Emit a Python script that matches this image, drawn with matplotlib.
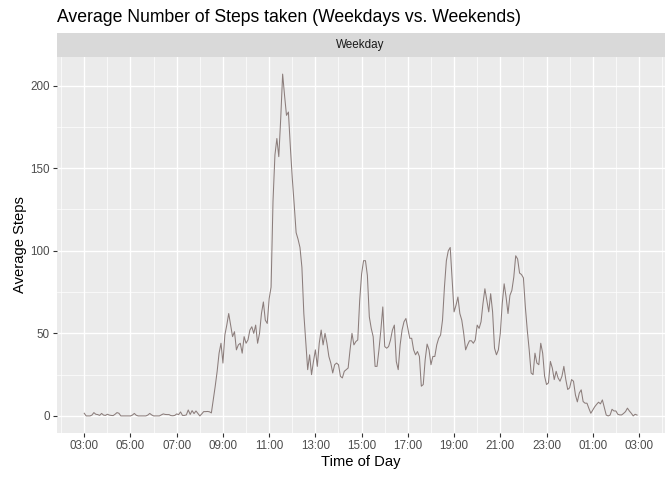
"""Average steps per 5-minute interval on weekdays, drawn in a ggplot-like style."""

import matplotlib

matplotlib.use("Agg")
import matplotlib.pyplot as plt
import numpy as np

# Average steps per 5-minute interval, starting at 03:00 on the axis
steps = [
    1.6, 0, 0, 0, 0.5, 2, 1, 0.8, 0.3, 1.5,
    0.5, 0.3, 1, 0.5, 0.3, 0.2, 1, 2, 1.6, 0,
    0, 0, 0, 0, 0, 0.5, 1.5, 0.4, 0, 0,
    0, 0, 0, 0.5, 1.5, 0.6, 0, 0, 0, 0,
    0.6, 1.2, 0.9, 0.8, 0.8, 0.2, 0.1, 0.3, 1.2, 0.8,
    2.4, 0.3, 0.3, 0.6, 3.6, 0.9, 3.2, 1.4, 3, 1.5,
    0, 1.2, 2.6, 2.6, 2.7, 2.5, 1.8, 10, 18, 27,
    38, 44, 32, 49, 55, 62, 55, 48, 51, 40,
    43, 44, 38, 48, 44, 46, 52, 54, 50, 55,
    44, 50, 62, 69, 58, 56, 71, 78, 130, 158,
    168, 157, 180, 207, 194, 182, 184, 163, 144, 128,
    111, 107, 102, 90, 62, 45, 28, 37, 25, 33,
    40, 30, 44, 52, 43, 50, 44, 36, 32, 26,
    31, 32, 31, 24, 23, 27, 28, 29, 40, 50,
    43, 45, 46, 70, 86, 94, 94, 85, 60, 53,
    48, 30, 30, 40, 52, 66, 42, 41, 42, 46,
    52, 55, 33, 28, 43, 52, 57, 59, 53, 47,
    47, 40, 37, 39, 36, 18, 19, 34, 43.5, 40,
    31, 36, 36, 43, 47, 49, 58, 78, 94, 100,
    102, 82, 63, 67, 72, 62, 58, 50, 40, 43,
    45.5, 45.5, 44, 46, 55, 53, 57, 68, 77, 70,
    63, 74, 63, 41, 37, 40, 50, 68, 80, 72,
    62, 73, 76, 84, 97, 95, 86.5, 85.6, 83.6, 66,
    52, 40, 26, 25, 38, 32, 31, 44, 38, 24,
    19, 20, 33, 29, 22, 27, 23, 21, 24, 30,
    22, 16, 17, 22, 21, 12.7, 8.5, 13.8, 15.8, 8.7,
    7.7, 7.7, 4.5, 1.6, 3.5, 5.5, 7, 8.3, 7.3, 9.7,
    5, 0.5, 0, 0.5, 4, 3, 3, 1, 0.6, 0.6,
    1.5, 2.6, 4.7, 3, 1.6, 0, 1, 0.5,
]
facet_label = "Weekday"
tick_labels = ["03:00", "05:00", "07:00", "09:00", "11:00", "13:00", "15:00",
               "17:00", "19:00", "21:00", "23:00", "01:00", "03:00"]
y_ticks = [0, 50, 100, 150, 200]

# minutes after the first interval
minutes = np.arange(len(steps)) * 5

W, H = 672, 480
BG = "#EBEBEB"
STRIP = "#D9D9D9"
LINE = "#8B7D7B"
FONT = "Liberation Sans"

plt.rcParams["font.family"] = [FONT, "DejaVu Sans"]

fig = plt.figure(figsize=(W / 100, H / 100), dpi=100)

# panel and strip placement in pixels
left, right, bottom, top = 56.6, 664.7, 433, 57
strip_top = 33
ax = fig.add_axes([left / W, 1 - bottom / H, (right - left) / W, (bottom - top) / H])
sax = fig.add_axes([left / W, 1 - top / H, (right - left) / W, (top - strip_top) / H])

ax.set_facecolor(BG)
for s in ax.spines.values():
    s.set_visible(False)

# ggplot style expansion of 5 percent
xr = minutes[-1] - minutes[0]
ax.set_xlim(minutes[0] - 0.05 * xr, minutes[-1] + 0.05 * xr)
ymin, ymax = min(steps), max(steps)
yr = ymax - ymin
ax.set_ylim(ymin - 0.05 * yr, ymax + 0.05 * yr)

x_major = np.arange(len(tick_labels)) * 120
x_minor = np.arange(-60, 1560, 120)
y_minor = [25, 75, 125, 175]

for xm in x_minor:
    ax.axvline(xm, color="white", lw=0.5, zorder=1)
for ym in y_minor:
    ax.axhline(ym, color="white", lw=0.5, zorder=1)
for xm in x_major:
    ax.axvline(xm, color="white", lw=1.0, zorder=1)
for ym in y_ticks:
    ax.axhline(ym, color="white", lw=1.0, zorder=1)

ax.plot(minutes, steps, color=LINE, lw=0.75, zorder=3)

ax.set_xticks(x_major)
ax.set_xticklabels(tick_labels)
ax.set_yticks(y_ticks)
ax.set_yticklabels([str(v) for v in y_ticks])
ax.tick_params(axis="both", length=2.7, width=0.8, color="#333333",
               labelcolor="#4D4D4D", labelsize=8.4, pad=2.1)

ax.set_xlabel("Time of Day", fontsize=10.6, color="black", labelpad=2.6)
ax.set_ylabel("Average Steps", fontsize=10.6, color="black", labelpad=2.6)

# facet strip
sax.set_facecolor(STRIP)
sax.set_xticks([])
sax.set_yticks([])
for s in sax.spines.values():
    s.set_visible(False)
sax.text(0.5, 0.5, facet_label, ha="center", va="center", fontsize=8.4,
         color="#1A1A1A", transform=sax.transAxes)

fig.text(left / W, 1 - 22 / H, "Average Number of Steps taken (Weekdays vs. Weekends)",
         ha="left", va="baseline", fontsize=12.7, color="black")

fig.savefig("out.png", dpi=100)
